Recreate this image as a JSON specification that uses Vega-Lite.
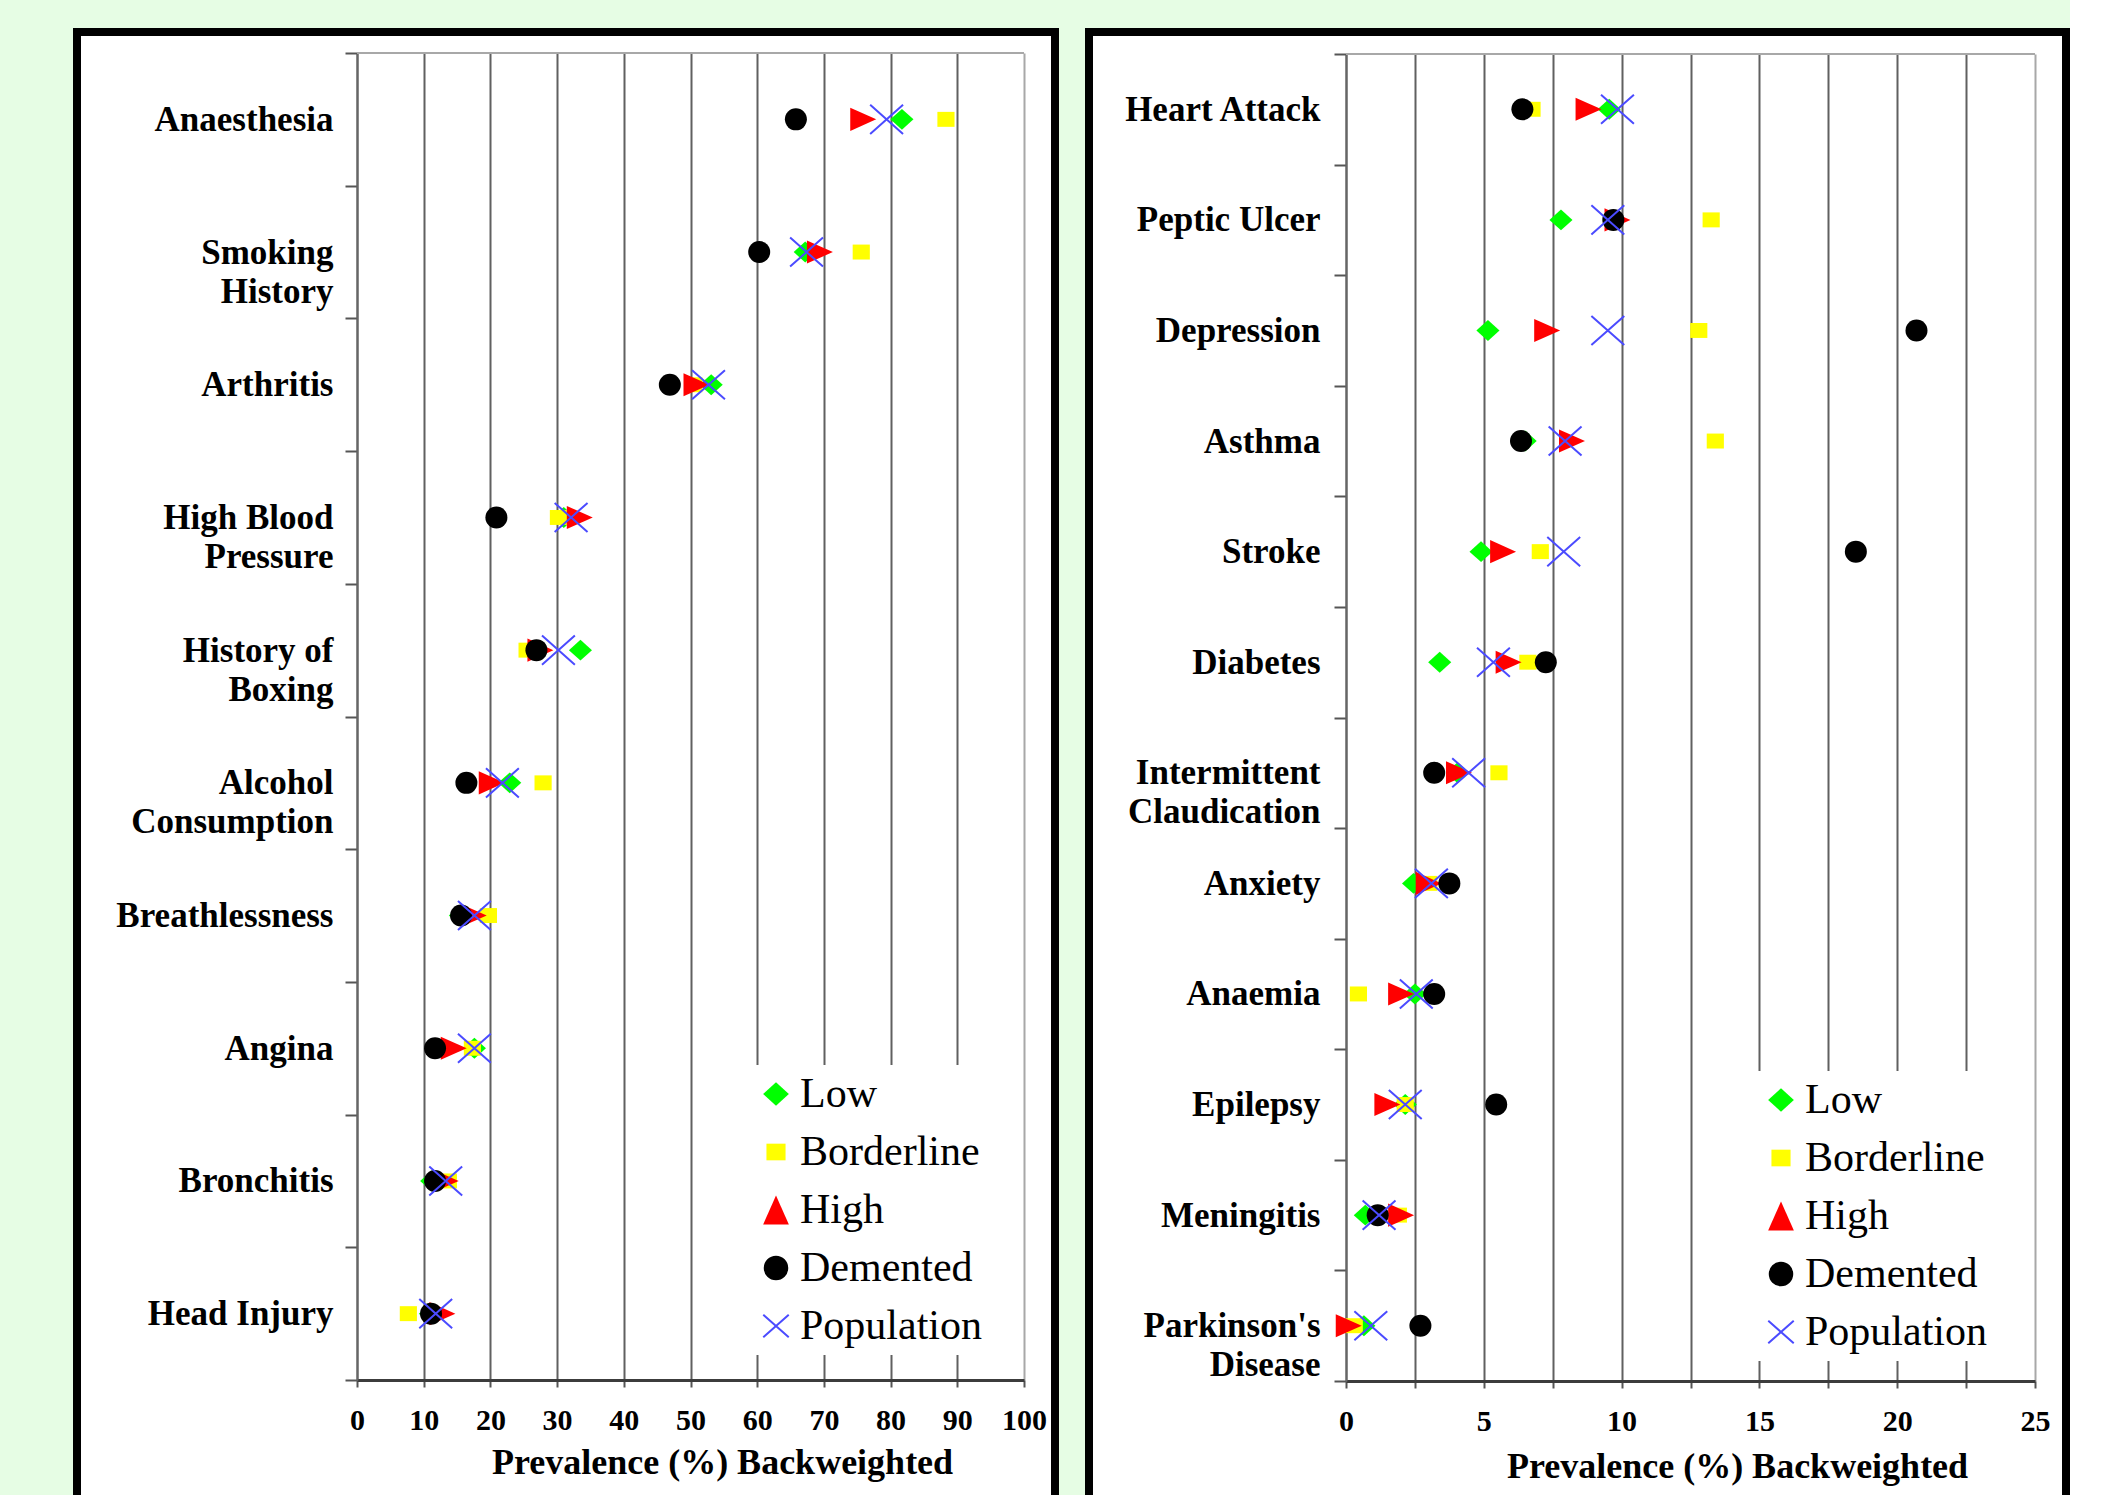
{
  "$schema": "https://vega.github.io/schema/vega-lite/v6.json",
  "background": "#e6fde4",
  "padding": {"left": 73, "top": 11, "right": 0, "bottom": -2},
  "datasets": {
    "left": [
      {"condition": "Anaesthesia", "group": "Low", "prevalence": 81.7},
      {"condition": "Smoking|History", "group": "Low", "prevalence": 67.2},
      {"condition": "Arthritis", "group": "Low", "prevalence": 53.1},
      {"condition": "High Blood|Pressure", "group": "Low", "prevalence": 31.0},
      {"condition": "History of|Boxing", "group": "Low", "prevalence": 33.5},
      {"condition": "Alcohol|Consumption", "group": "Low", "prevalence": 22.9},
      {"condition": "Breathlessness", "group": "Low", "prevalence": 15.5},
      {"condition": "Angina", "group": "Low", "prevalence": 17.6},
      {"condition": "Bronchitis", "group": "Low", "prevalence": 11.2},
      {"condition": "Head Injury", "group": "Low", "prevalence": 11.0},
      {"condition": "Anaesthesia", "group": "Borderline", "prevalence": 88.3},
      {"condition": "Smoking|History", "group": "Borderline", "prevalence": 75.6},
      {"condition": "Arthritis", "group": "Borderline", "prevalence": 50.5},
      {"condition": "High Blood|Pressure", "group": "Borderline", "prevalence": 30.2},
      {"condition": "History of|Boxing", "group": "Borderline", "prevalence": 25.5},
      {"condition": "Alcohol|Consumption", "group": "Borderline", "prevalence": 27.9},
      {"condition": "Breathlessness", "group": "Borderline", "prevalence": 19.7},
      {"condition": "Angina", "group": "Borderline", "prevalence": 17.3},
      {"condition": "Bronchitis", "group": "Borderline", "prevalence": 13.7},
      {"condition": "Head Injury", "group": "Borderline", "prevalence": 7.7},
      {"condition": "Anaesthesia", "group": "High", "prevalence": 75.9},
      {"condition": "Smoking|History", "group": "High", "prevalence": 69.4},
      {"condition": "Arthritis", "group": "High", "prevalence": 50.9},
      {"condition": "High Blood|Pressure", "group": "High", "prevalence": 33.4},
      {"condition": "History of|Boxing", "group": "High", "prevalence": 27.5},
      {"condition": "Alcohol|Consumption", "group": "High", "prevalence": 20.2},
      {"condition": "Breathlessness", "group": "High", "prevalence": 17.5},
      {"condition": "Angina", "group": "High", "prevalence": 14.5},
      {"condition": "Bronchitis", "group": "High", "prevalence": 13.3},
      {"condition": "Head Injury", "group": "High", "prevalence": 12.8},
      {"condition": "Anaesthesia", "group": "Demented", "prevalence": 65.8},
      {"condition": "Smoking|History", "group": "Demented", "prevalence": 60.3},
      {"condition": "Arthritis", "group": "Demented", "prevalence": 46.9},
      {"condition": "High Blood|Pressure", "group": "Demented", "prevalence": 20.9},
      {"condition": "History of|Boxing", "group": "Demented", "prevalence": 26.9},
      {"condition": "Alcohol|Consumption", "group": "Demented", "prevalence": 16.4},
      {"condition": "Breathlessness", "group": "Demented", "prevalence": 15.6},
      {"condition": "Angina", "group": "Demented", "prevalence": 11.7},
      {"condition": "Bronchitis", "group": "Demented", "prevalence": 11.7},
      {"condition": "Head Injury", "group": "Demented", "prevalence": 11.1},
      {"condition": "Anaesthesia", "group": "Population", "prevalence": 79.4},
      {"condition": "Smoking|History", "group": "Population", "prevalence": 67.4},
      {"condition": "Arthritis", "group": "Population", "prevalence": 52.7},
      {"condition": "High Blood|Pressure", "group": "Population", "prevalence": 32.1},
      {"condition": "History of|Boxing", "group": "Population", "prevalence": 30.2},
      {"condition": "Alcohol|Consumption", "group": "Population", "prevalence": 21.8},
      {"condition": "Breathlessness", "group": "Population", "prevalence": 17.6},
      {"condition": "Angina", "group": "Population", "prevalence": 17.6},
      {"condition": "Bronchitis", "group": "Population", "prevalence": 13.3},
      {"condition": "Head Injury", "group": "Population", "prevalence": 11.8}
    ],
    "right": [
      {"condition": "Heart Attack", "group": "Low", "prevalence": 9.55},
      {"condition": "Peptic Ulcer", "group": "Low", "prevalence": 7.8},
      {"condition": "Depression", "group": "Low", "prevalence": 5.15},
      {"condition": "Asthma", "group": "Low", "prevalence": 6.5},
      {"condition": "Stroke", "group": "Low", "prevalence": 4.9},
      {"condition": "Diabetes", "group": "Low", "prevalence": 3.4},
      {"condition": "Intermittent|Claudication", "group": "Low", "prevalence": 4.05},
      {"condition": "Anxiety", "group": "Low", "prevalence": 2.45},
      {"condition": "Anaemia", "group": "Low", "prevalence": 2.5},
      {"condition": "Epilepsy", "group": "Low", "prevalence": 2.15},
      {"condition": "Meningitis", "group": "Low", "prevalence": 0.7},
      {"condition": "Parkinson's|Disease", "group": "Low", "prevalence": 0.65},
      {"condition": "Heart Attack", "group": "Borderline", "prevalence": 6.75},
      {"condition": "Peptic Ulcer", "group": "Borderline", "prevalence": 13.25},
      {"condition": "Depression", "group": "Borderline", "prevalence": 12.8},
      {"condition": "Asthma", "group": "Borderline", "prevalence": 13.4},
      {"condition": "Stroke", "group": "Borderline", "prevalence": 7.05},
      {"condition": "Diabetes", "group": "Borderline", "prevalence": 6.6},
      {"condition": "Intermittent|Claudication", "group": "Borderline", "prevalence": 5.55},
      {"condition": "Anxiety", "group": "Borderline", "prevalence": 3.0},
      {"condition": "Anaemia", "group": "Borderline", "prevalence": 0.45},
      {"condition": "Epilepsy", "group": "Borderline", "prevalence": 2.15},
      {"condition": "Meningitis", "group": "Borderline", "prevalence": 1.9},
      {"condition": "Parkinson's|Disease", "group": "Borderline", "prevalence": 0.3},
      {"condition": "Heart Attack", "group": "High", "prevalence": 8.8},
      {"condition": "Peptic Ulcer", "group": "High", "prevalence": 9.85},
      {"condition": "Depression", "group": "High", "prevalence": 7.3},
      {"condition": "Asthma", "group": "High", "prevalence": 8.2},
      {"condition": "Stroke", "group": "High", "prevalence": 5.7},
      {"condition": "Diabetes", "group": "High", "prevalence": 5.9},
      {"condition": "Intermittent|Claudication", "group": "High", "prevalence": 4.1},
      {"condition": "Anxiety", "group": "High", "prevalence": 3.0},
      {"condition": "Anaemia", "group": "High", "prevalence": 2.0},
      {"condition": "Epilepsy", "group": "High", "prevalence": 1.5},
      {"condition": "Meningitis", "group": "High", "prevalence": 2.0},
      {"condition": "Parkinson's|Disease", "group": "High", "prevalence": 0.1},
      {"condition": "Heart Attack", "group": "Demented", "prevalence": 6.4},
      {"condition": "Peptic Ulcer", "group": "Demented", "prevalence": 9.7},
      {"condition": "Depression", "group": "Demented", "prevalence": 20.7},
      {"condition": "Asthma", "group": "Demented", "prevalence": 6.35},
      {"condition": "Stroke", "group": "Demented", "prevalence": 18.5},
      {"condition": "Diabetes", "group": "Demented", "prevalence": 7.25},
      {"condition": "Intermittent|Claudication", "group": "Demented", "prevalence": 3.2},
      {"condition": "Anxiety", "group": "Demented", "prevalence": 3.75},
      {"condition": "Anaemia", "group": "Demented", "prevalence": 3.2},
      {"condition": "Epilepsy", "group": "Demented", "prevalence": 5.45},
      {"condition": "Meningitis", "group": "Demented", "prevalence": 1.15},
      {"condition": "Parkinson's|Disease", "group": "Demented", "prevalence": 2.7},
      {"condition": "Heart Attack", "group": "Population", "prevalence": 9.85},
      {"condition": "Peptic Ulcer", "group": "Population", "prevalence": 9.5},
      {"condition": "Depression", "group": "Population", "prevalence": 9.5},
      {"condition": "Asthma", "group": "Population", "prevalence": 7.95},
      {"condition": "Stroke", "group": "Population", "prevalence": 7.9},
      {"condition": "Diabetes", "group": "Population", "prevalence": 5.35},
      {"condition": "Intermittent|Claudication", "group": "Population", "prevalence": 4.45},
      {"condition": "Anxiety", "group": "Population", "prevalence": 3.1},
      {"condition": "Anaemia", "group": "Population", "prevalence": 2.55},
      {"condition": "Epilepsy", "group": "Population", "prevalence": 2.15},
      {"condition": "Meningitis", "group": "Population", "prevalence": 1.2},
      {"condition": "Parkinson's|Disease", "group": "Population", "prevalence": 0.9}
    ]
  },
  "spacing": 26,
  "hconcat": [
    {
      "width": 978,
      "height": 1478,
      "layer": [
        {
          "data": {"values": [{}]},
          "mark": {"type": "rule", "color": "#a8a8a8", "strokeWidth": 2},
          "encoding": {
            "x": {"datum": 0, "type": "quantitative",
              "axis": {"orient": "top", "grid": true, "domain": false, "ticks": false, "labels": false, "title": null,
                "values": [0, 10, 20, 30, 40, 50, 60, 70, 80, 90, 100],
                "gridColor": {"condition": {"test": "datum.value === 100", "value": "#a8a8a8"}, "value": "#606060"}}},
            "x2": {"datum": 100},
            "y": {"datum": "Anaesthesia", "type": "nominal", "bandPosition": 0,
              "axis": {"title": null, "offset": -280, "labelPadding": 12,
                "labelExpr": "datum.label === 'Smoking|History' ? ['Smoking', 'History\u00a0'] : datum.label === 'High Blood|Pressure' ? ['High Blood', 'Pressure\u00a0\u00a0'] : datum.label === 'History of|Boxing' ? ['History of', 'Boxing\u00a0\u00a0\u00a0'] : datum.label === 'Alcohol|Consumption' ? ['Alcohol\u00a0\u00a0\u00a0\u00a0\u00a0', 'Consumption'] : split(datum.label, '|')"}}
          }
        },
        {
          "data": {"name": "left"},
          "mark": {"type": "point", "filled": true, "strokeWidth": 2, "opacity": 1},
          "encoding": {
            "x": {
              "field": "prevalence", "type": "quantitative",
              "scale": {"domain": [0, 100], "range": [280, 947], "nice": false, "zero": false},
              "axis": {
                "orient": "bottom", "offset": -130, "grid": false,
                "values": [0, 10, 20, 30, 40, 50, 60, 70, 80, 90, 100],
                "title": "Prevalence (%) Backweighted",
                "titleX": 645, "titleY": 93
              }
            },
            "y": {
              "field": "condition", "type": "nominal",
              "scale": {"domain": ["Anaesthesia", "Smoking|History", "Arthritis", "High Blood|Pressure", "History of|Boxing", "Alcohol|Consumption", "Breathlessness", "Angina", "Bronchitis", "Head Injury"], "range": [21, 1348], "paddingInner": 0, "paddingOuter": 0},
              "axis": {"title": null, "offset": -280, "labelPadding": 12,
                "labelExpr": "datum.label === 'Smoking|History' ? ['Smoking', 'History\u00a0'] : datum.label === 'High Blood|Pressure' ? ['High Blood', 'Pressure\u00a0\u00a0'] : datum.label === 'History of|Boxing' ? ['History of', 'Boxing\u00a0\u00a0\u00a0'] : datum.label === 'Alcohol|Consumption' ? ['Alcohol\u00a0\u00a0\u00a0\u00a0\u00a0', 'Consumption'] : split(datum.label, '|')"}
            },
            "fill": {
              "field": "group", "type": "nominal",
              "scale": {"domain": ["Low", "Borderline", "High", "Demented", "Population"], "range": ["#00ff00", "#ffff00", "#ff0000", "#000000", "#4b4bff"]},
              "legend": {"orient": "none", "legendX": 670, "legendY": 1033, "title": null}
            },
            "stroke": {
              "field": "group", "type": "nominal",
              "scale": {"domain": ["Low", "Borderline", "High", "Demented", "Population"], "range": ["transparent", "transparent", "transparent", "transparent", "#4b4bff"]},
              "legend": {"orient": "none", "legendX": 670, "legendY": 1033, "title": null}
            },
            "shape": {
              "field": "group", "type": "nominal",
              "scale": {"domain": ["Low", "Borderline", "High", "Demented", "Population"], "range": ["M-1.05,0L0,-0.95L1.05,0L0,0.95Z", "M-0.78,-0.68L0.78,-0.68L0.78,0.68L-0.78,0.68Z", "M0,-1.18L1.05,1.18L-1.05,1.18Z", "circle", "M-1.04,-0.92L1.04,0.92M-1.04,0.92L1.04,-0.92"]},
              "legend": {"orient": "none", "legendX": 670, "legendY": 1033, "title": null}
            },
            "angle": {"condition": {"test": "datum.group === 'High'", "value": 90}, "value": 0},
            "size": {"condition": {"test": "datum.group === 'Population'", "value": 1000}, "value": 484}
          }
        }
      ],
      "resolve": {"axis": {"x": "independent"}}
    },
    {
      "width": 977,
      "height": 1478,
      "layer": [
        {
          "data": {"values": [{}]},
          "mark": {"type": "rule", "color": "#a8a8a8", "strokeWidth": 2},
          "encoding": {
            "x": {"datum": 0, "type": "quantitative",
              "axis": {"orient": "top", "grid": true, "domain": false, "ticks": false, "labels": false, "title": null,
                "values": [0, 2.5, 5, 7.5, 10, 12.5, 15, 17.5, 20, 22.5, 25],
                "gridColor": {"condition": {"test": "datum.value === 25", "value": "#a8a8a8"}, "value": "#606060"}}},
            "x2": {"datum": 25},
            "y": {"datum": "Heart Attack", "type": "nominal", "bandPosition": 0,
              "axis": {"title": null, "offset": -257, "labelPadding": 14,
                "labelExpr": "indexof(datum.label, 'Parkinson') >= 0 ? [split(datum.label, '|')[0], 'Disease\u00a0\u00a0\u00a0\u00a0'] : split(datum.label, '|')"}}
          }
        },
        {
          "data": {"name": "right"},
          "mark": {"type": "point", "filled": true, "strokeWidth": 2, "opacity": 1},
          "encoding": {
            "x": {
              "field": "prevalence", "type": "quantitative",
              "scale": {"domain": [0, 25], "range": [257, 946], "nice": false, "zero": false},
              "axis": {
                "orient": "bottom", "offset": -129, "grid": false,
                "values": [0, 2.5, 5, 7.5, 10, 12.5, 15, 17.5, 20, 22.5, 25],
                "labelExpr": "datum.value % 5 === 0 ? datum.label : ''",
                "title": "Prevalence (%) Backweighted",
                "titleX": 648, "titleY": 96
              }
            },
            "y": {
              "field": "condition", "type": "nominal",
              "scale": {"domain": ["Heart Attack", "Peptic Ulcer", "Depression", "Asthma", "Stroke", "Diabetes", "Intermittent|Claudication", "Anxiety", "Anaemia", "Epilepsy", "Meningitis", "Parkinson's|Disease"], "range": [22, 1349], "paddingInner": 0, "paddingOuter": 0},
              "axis": {"title": null, "offset": -257, "labelPadding": 14,
                "labelExpr": "indexof(datum.label, 'Parkinson') >= 0 ? [split(datum.label, '|')[0], 'Disease\u00a0\u00a0\u00a0\u00a0'] : split(datum.label, '|')"}
            },
            "fill": {
              "field": "group", "type": "nominal",
              "scale": {"domain": ["Low", "Borderline", "High", "Demented", "Population"], "range": ["#00ff00", "#ffff00", "#ff0000", "#000000", "#4b4bff"]},
              "legend": {"orient": "none", "legendX": 663, "legendY": 1039, "title": null}
            },
            "stroke": {
              "field": "group", "type": "nominal",
              "scale": {"domain": ["Low", "Borderline", "High", "Demented", "Population"], "range": ["transparent", "transparent", "transparent", "transparent", "#4b4bff"]},
              "legend": {"orient": "none", "legendX": 663, "legendY": 1039, "title": null}
            },
            "shape": {
              "field": "group", "type": "nominal",
              "scale": {"domain": ["Low", "Borderline", "High", "Demented", "Population"], "range": ["M-1.05,0L0,-0.95L1.05,0L0,0.95Z", "M-0.78,-0.68L0.78,-0.68L0.78,0.68L-0.78,0.68Z", "M0,-1.18L1.05,1.18L-1.05,1.18Z", "circle", "M-1.04,-0.92L1.04,0.92M-1.04,0.92L1.04,-0.92"]},
              "legend": {"orient": "none", "legendX": 663, "legendY": 1039, "title": null}
            },
            "angle": {"condition": {"test": "datum.group === 'High'", "value": 90}, "value": 0},
            "size": {"condition": {"test": "datum.group === 'Population'", "value": 1000}, "value": 484}
          }
        }
      ],
      "resolve": {"axis": {"x": "independent"}}
    }
  ],
  "resolve": {
    "scale": {"x": "independent", "y": "independent", "fill": "independent", "stroke": "independent", "shape": "independent"},
    "legend": {"fill": "independent", "stroke": "independent", "shape": "independent"}
  },
  "config": {
    "font": "Liberation Serif",
    "view": {"fill": "white", "stroke": "black", "strokeWidth": 8},
    "axisX": {
      "gridWidth": 2, "gridOpacity": 1,
      "domainColor": "#3c3c3c", "domainWidth": 3,
      "tickColor": "#555555", "tickSize": 7, "tickWidth": 2,
      "labelFont": "Liberation Serif", "labelFontWeight": "bold", "labelFontSize": 30, "labelColor": "black",
      "labelPadding": 18, "labelFlush": false, "labelOverlap": false,
      "titleFont": "Liberation Serif", "titleFontWeight": "bold", "titleFontSize": 36, "titleColor": "black",
      "titleBaseline": "alphabetic", "titleAlign": "center"
    },
    "axisY": {
      "grid": false, "tickBand": "extent",
      "domainColor": "#666666", "domainWidth": 2,
      "tickColor": "#555555", "tickSize": 12, "tickWidth": 2,
      "labelFont": "Liberation Serif", "labelFontWeight": "bold", "labelFontSize": 35, "labelColor": "black",
      "labelLineHeight": 39, "labelLimit": 500
    },
    "legend": {
      "fillColor": "white", "padding": 8, "rowPadding": 16,
      "labelFont": "Liberation Serif", "labelFontSize": 42, "labelColor": "black",
      "labelLimit": 400, "labelOffset": 3,
      "symbolSize": 600, "symbolStrokeWidth": 2
    }
  }
}
